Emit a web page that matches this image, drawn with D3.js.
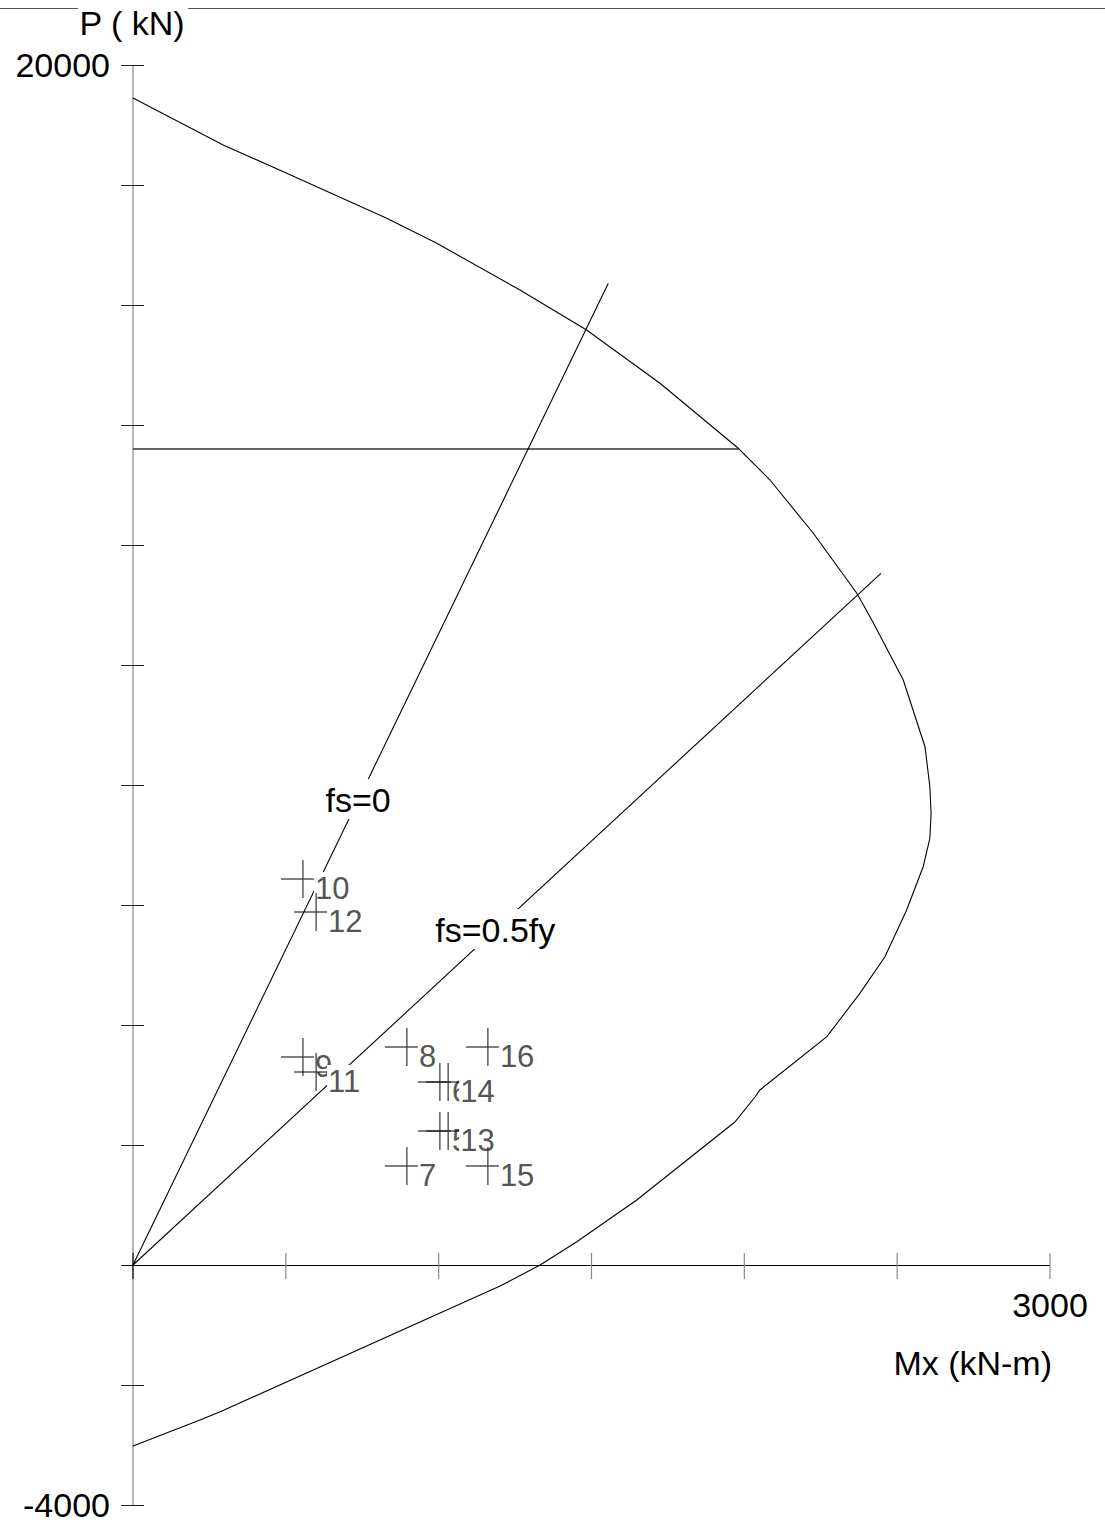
<!DOCTYPE html>
<html>
<head>
<meta charset="utf-8">
<script src="https://cdn.jsdelivr.net/npm/d3@7"></script>
<style>
  html, body { margin: 0; padding: 0; background: #fff; }
  svg { display: block; }
  text { font-family: "Liberation Sans", Arial, sans-serif; }
</style>
</head>
<body>
<svg id="chart" width="1105" height="1524"></svg>
<script>
// P-M interaction diagram (Mx in kN-m, P in kN)
const curveM = [0, 295, 503, 830, 994, 1266, 1484, 1724, 1980, 2084, 2225, 2368, 2417, 2520, 2591, 2607, 2611, 2607, 2585, 2531, 2460, 2378, 2270, 2051, 2035, 1969, 1648, 1452, 1332, 1201, 291, 219, 0];
const curveP = [19450, 18667, 18195, 17445, 17028, 16250, 15583, 14695, 13612, 13083, 12200, 11195, 10750, 9750, 8638, 7972, 7528, 7112, 6638, 5917, 5138, 4528, 3805, 2917, 2800, 2383, 1083, 388, 0, -350, -2433, -2583, -3017];

// maximum axial load cap
const capP = 13600;
const capM = 1980;

// strain lines from the origin
const lineNames = ["fs=0", "fs=0.5fy"];
const lineEndM = [1555, 2447];
const lineEndP = [16361, 11528];
const lineLabelP = [7750, 5583];

// load cases
const pointIds = [5, 6, 7, 8, 9, 10, 11, 12, 13, 14, 15, 16];
const pointM = [1004, 1004, 896, 896, 556, 556, 599, 599, 1031, 1031, 1161, 1161];
const pointP = [2233, 3050, 1650, 3633, 3467, 6433, 3217, 5883, 2233, 3050, 1650, 3633];

// axis ticks
const xTicks = [0, 500, 1000, 1500, 2000, 2500, 3000];
const yTicks = [-4000, -2000, 0, 2000, 4000, 6000, 8000, 10000, 12000, 14000, 16000, 18000, 20000];
const xTickLabels = ["3000"];
const yTickLabels = ["20000", "-4000"];
const xTitle = "Mx (kN-m)";
const yTitle = "P ( kN)";

const svg = d3.select("#chart");
const x = d3.scaleLinear().domain([0, 3000]).range([133, 1050]);
const y = d3.scaleLinear().domain([-4000, 20000]).range([1505, 65]);

// top frame line with gap for the y title
svg.append("line").attr("x1", 0).attr("x2", 78).attr("y1", 8.5).attr("y2", 8.5)
  .attr("stroke", "#555").attr("stroke-width", 1);
svg.append("line").attr("x1", 188).attr("x2", 1105).attr("y1", 8.5).attr("y2", 8.5)
  .attr("stroke", "#555").attr("stroke-width", 1);

// y axis
svg.append("line").attr("x1", x(0)).attr("x2", x(0)).attr("y1", y(20000)).attr("y2", y(-4000))
  .attr("stroke", "#888").attr("stroke-width", 1.2);
svg.selectAll(".ytick").data(yTicks).enter().append("line")
  .attr("x1", x(0) - 12).attr("x2", x(0) + 11)
  .attr("y1", d => y(d) + 0.5).attr("y2", d => y(d) + 0.5)
  .attr("stroke", "#222").attr("stroke-width", 1);

// x axis
svg.append("line").attr("x1", x(0) - 11).attr("x2", x(3000)).attr("y1", y(0) + 0.5).attr("y2", y(0) + 0.5)
  .attr("stroke", "#000").attr("stroke-width", 1.2);
svg.selectAll(".xtick").data(xTicks).enter().append("line")
  .attr("x1", d => x(d)).attr("x2", d => x(d))
  .attr("y1", y(0) - 12).attr("y2", y(0) + 14)
  .attr("stroke", d => d === 0 ? "#111" : "#888").attr("stroke-width", 1.2);

// axis labels
svg.selectAll(".ylab").data(yTickLabels).enter().append("text")
  .attr("x", 110).attr("y", d => y(+d) + 12)
  .attr("text-anchor", "end").attr("font-size", 34).attr("fill", "#000")
  .text(d => d);
svg.selectAll(".xlab").data(xTickLabels).enter().append("text")
  .attr("x", d => x(+d)).attr("y", 1317)
  .attr("text-anchor", "middle").attr("font-size", 34).attr("fill", "#000")
  .text(d => d);
svg.append("text").attr("x", 132).attr("y", 35).attr("text-anchor", "middle")
  .attr("font-size", 34).attr("fill", "#000").text(yTitle);
svg.append("text").attr("x", 1052).attr("y", 1375).attr("text-anchor", "end")
  .attr("font-size", 34).attr("fill", "#000").text(xTitle);

// interaction curve
const curve = curveM.map((m, i) => [m, curveP[i]]);
svg.append("path")
  .attr("d", d3.line().x(d => x(d[0])).y(d => y(d[1]))(curve))
  .attr("fill", "none").attr("stroke", "#000").attr("stroke-width", 1.1);

// axial cap line
svg.append("line").attr("x1", x(0)).attr("x2", x(capM)).attr("y1", y(capP)).attr("y2", y(capP))
  .attr("stroke", "#333").attr("stroke-width", 1.4);

// strain lines and their labels
lineNames.forEach((name, i) => {
  svg.append("line").attr("x1", x(0)).attr("y1", y(0))
    .attr("x2", x(lineEndM[i])).attr("y2", y(lineEndP[i]))
    .attr("stroke", "#000").attr("stroke-width", 1.1);
  const lp = lineLabelP[i];
  const lm = lineEndM[i] * lp / lineEndP[i];
  const g = svg.append("g");
  const t = g.append("text").attr("x", x(lm)).attr("y", y(lp) + 12)
    .attr("text-anchor", "middle").attr("font-size", 34).attr("fill", "#000").text(name);
  const bb = t.node().getBBox();
  g.insert("rect", "text").attr("x", bb.x - 2).attr("y", y(lp) - 21)
    .attr("width", bb.width + 4).attr("height", 40).attr("fill", "#fff");
});

// load case markers and labels
pointIds.forEach((id, i) => {
  const px = x(pointM[i]), py = y(pointP[i]);
  const g = svg.append("g");
  g.append("line").attr("x1", px - 22).attr("x2", px + 22).attr("y1", py).attr("y2", py)
    .attr("stroke", "#000").attr("stroke-width", 1.2);
  g.append("line").attr("x1", px).attr("x2", px).attr("y1", py - 19).attr("y2", py + 19)
    .attr("stroke", "#333").attr("stroke-width", 1.2);
  const t = g.append("text").attr("x", px + 12).attr("y", py + 20)
    .attr("font-size", 31).attr("fill", "#555").text(id);
  const bb = t.node().getBBox();
  g.insert("rect", "text").attr("x", px + 11).attr("y", py - 7)
    .attr("width", bb.width + 3).attr("height", 30).attr("fill", "#fff");
});
</script>
</body>
</html>
